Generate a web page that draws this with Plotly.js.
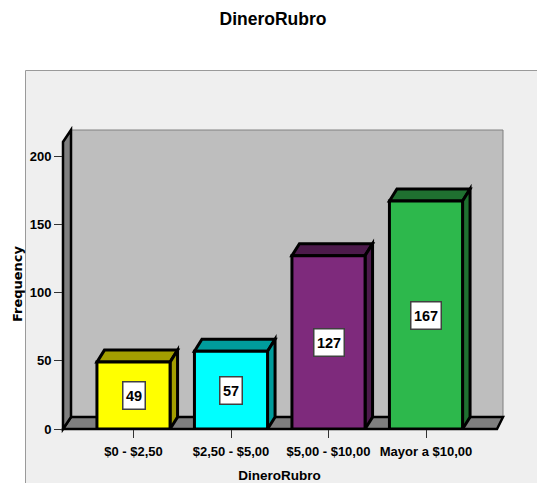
<!DOCTYPE html>
<html>
<head>
<meta charset="utf-8">
<script src="https://cdn.plot.ly/plotly-3.0.1.min.js"></script>
<style>html,body{margin:0;padding:0;background:#fff;overflow:hidden}</style>
</head>
<body>
<div id="chart" style="width:537px;height:483px"></div>
<script>
const categories = ['$0 - $2,50', '$2,50 - $5,00', '$5,00 - $10,00', 'Mayor a $10,00'];
const frequencies = [49, 57, 127, 167];
const frontColors = ['#ffff00', '#00ffff', '#7e2a7c', '#2db84c'];
const topColors = ['#a39e00', '#009c9c', '#4c1a4b', '#1f7030'];
const sideColors = ['#a39e00', '#009c9c', '#4c1a4b', '#1f7030'];
const yTicks = [0, 50, 100, 150, 200];

const W = 537, H = 483;
const L = 63, R = 496, T = 139, B = 429;
const pxPerUnit = 273 / 200, pxPerCat = 97.5;
const barW = 0.75, depthX = 7.5 / pxPerCat, depthY = 12 / pxPerUnit;
const xRange = [(L - 133.5) / pxPerCat, (R - 133.5) / pxPerCat];
const yRange = [0, (B - T) / pxPerUnit];
const px = x => (x - L) / (R - L);
const py = y => (B - y) / (B - T);
const poly = pts => 'M' + pts.map(p => p[0] + ',' + p[1]).join('L') + 'Z';
const paperPoly = pts => poly(pts.map(p => [px(p[0]), py(p[1])]));
const paperShape = (pts, fill, color, width) => ({
  type: 'path', xref: 'paper', yref: 'paper', layer: 'below',
  path: paperPoly(pts), fillcolor: fill, line: {color: color, width: width}
});

const shapes = [
  paperShape([[25.5, 70.5], [560, 70.5], [560, 520], [25.5, 520]], '#efefef', '#9a9a9a', 1),
  paperShape([[71, 130], [503, 130], [503, 417], [71, 417]], '#bebebe', '#808080', 1),
  paperShape([[63, 429], [71, 417], [503, 417], [497, 429]], '#7f7f7f', '#000000', 2.5),
  paperShape([[63, 429], [63, 142], [71, 130], [71, 417]], '#7f7f7f', '#000000', 2.5)
];
frequencies.forEach((v, i) => {
  const a = i - barW / 2, b = i + barW / 2;
  shapes.push({type: 'path', xref: 'x', yref: 'y', layer: 'below',
    path: poly([[a, v], [a + depthX, v + depthY], [b + depthX, v + depthY], [b, v]]),
    fillcolor: topColors[i], line: {color: '#000', width: 3}});
  shapes.push({type: 'path', xref: 'x', yref: 'y', layer: 'below',
    path: poly([[b, v], [b + depthX, v + depthY], [b + depthX, depthY], [b, 0]]),
    fillcolor: sideColors[i], line: {color: '#000', width: 3}});
});

const face = '"Liberation Sans", Arial, sans-serif';
const annotations = frequencies.map((v, i) => ({
  x: i, y: v / 2, xref: 'x', yref: 'y', text: String(v), showarrow: false,
  bgcolor: '#ffffff', bordercolor: '#404040', borderwidth: 1.5,
  width: String(v).length > 2 ? 29 : 21, height: 26, borderpad: 0,
  font: {family: face, size: 14.5, weight: 700, color: '#000'}
}));

Plotly.newPlot('chart', [{
  type: 'bar', x: categories, y: frequencies, width: barW,
  marker: {color: frontColors, line: {color: '#000', width: 3}},
  hoverinfo: 'x+y', cliponaxis: false
}], {
  width: W, height: H, autosize: false,
  margin: {l: L, r: W - R, t: T, b: H - B, pad: 0},
  paper_bgcolor: '#ffffff', plot_bgcolor: 'rgba(0,0,0,0)',
  showlegend: false,
  title: {text: 'DineroRubro', x: 273 / W, xref: 'container', xanchor: 'center',
    y: 1 - 19 / H, yref: 'container', yanchor: 'middle',
    font: {family: face, size: 17.5, weight: 700, color: '#000'}},
  xaxis: {type: 'category', categoryorder: 'array', categoryarray: categories, range: xRange,
    showgrid: false, zeroline: false, showline: false, ticks: 'outside', ticklen: 8, tickwidth: 1, tickcolor: '#333',
    ticklabelstandoff: 2,
    tickfont: {family: face, size: 13, weight: 700, color: '#000'},
    title: {text: 'DineroRubro', standoff: 15, font: {family: face, size: 13.5, weight: 700, color: '#000'}}},
  yaxis: {range: yRange, tickmode: 'array', tickvals: yTicks, ticktext: yTicks.map(String),
    showgrid: false, zeroline: false, showline: false, ticks: 'outside', ticklen: 8, tickwidth: 1, tickcolor: '#333',
    tickfont: {family: face, size: 13, weight: 700, color: '#000'},
    title: {text: 'Frequency', standoff: 4, font: {family: '"DejaVu Sans", sans-serif', size: 13, weight: 700, color: '#000'}}},
  shapes: shapes,
  annotations: annotations
}, {displayModeBar: false, staticPlot: true});
</script>
</body>
</html>
